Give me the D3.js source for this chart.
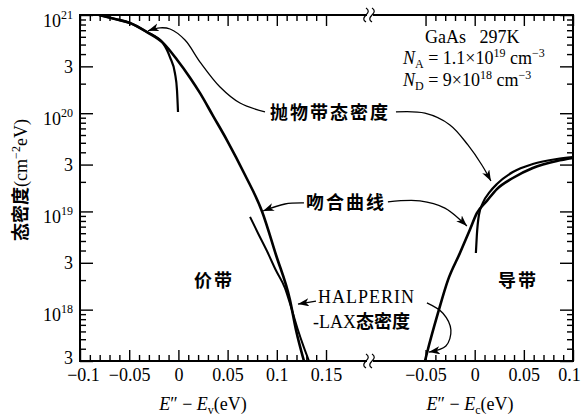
<!DOCTYPE html>
<html>
<head>
<meta charset="utf-8">
<script src="https://cdn.jsdelivr.net/npm/d3@7"></script>
<style>
  body { margin: 0; background: #fff; }
</style>
</head>
<body>
<div id="chart"></div>
<script>
// density of states of GaAs
// [E'' - E (eV), DOS]
const vbFitted = [
  [-0.0807, 1.0e21], [-0.0644, 9.1e20], [-0.0492, 8.3e20], [-0.0319, 6.7e20],
  [-0.0156, 5.2e20], [-0.0014, 3.5e20], [0.0118, 2.3e20], [0.0220, 1.6e20],
  [0.0352, 9.4e19], [0.0494, 5.3e19], [0.0677, 2.35e19], [0.0850, 1.0e19],
  [0.0992, 3.6e18], [0.1134, 1.25e18], [0.1195, 6.2e17], [0.1276, 3.0e17]
];
const vbParabolic = [
  [-0.0807, 1.0e21], [-0.0644, 9.1e20], [-0.0492, 8.3e20], [-0.0319, 6.7e20],
  [-0.0156, 5.15e20], [-0.0116, 4.4e20], [-0.0085, 3.7e20], [-0.0035, 2.55e20],
  [-0.0014, 1.7e20], [-0.0004, 1.03e20]
];
const vbHalperinLax = [
  [0.0728, 8.8e18], [0.0809, 6.0e18], [0.0900, 3.95e18], [0.0992, 2.5e18],
  [0.1083, 1.66e18], [0.1154, 9.9e17], [0.1215, 6.2e17], [0.1276, 4.1e17],
  [0.1327, 3.0e17]
];
const cbFitted = [
  [-0.0506, 3.0e17], [-0.0486, 3.6e17], [-0.0374, 9.2e17], [-0.0272, 2.0e18],
  [-0.0150, 3.77e18], [-0.0049, 6.5e18], [0.0022, 9.6e18], [0.0124, 1.28e19],
  [0.0226, 1.69e19], [0.0388, 2.19e19], [0.0591, 2.77e19], [0.0835, 3.26e19],
  [0.0998, 3.5e19]
];
const cbParabolic = [
  [0.0012, 3.77e18], [0.0022, 5.75e18], [0.0043, 9.2e18], [0.0083, 1.22e19],
  [0.0154, 1.58e19], [0.0226, 1.9e19], [0.0388, 2.52e19], [0.0591, 3.04e19],
  [0.0835, 3.42e19], [0.0998, 3.58e19]
];

// annotation arrows, same units, "v" = valence side, "c" = conduction side
const arrows = [
  { side: "v", pts: [[0.0880, 1.03e20], [0.0626, 1.27e20], [0.0423, 1.85e20], [0.0220, 3.32e20], [0.0067, 5.56e20], [-0.0085, 7.2e20], [-0.0187, 7.4e20], [-0.0309, 6.9e20]] },
  { side: "c", pts: [[-0.0801, 1.03e20], [-0.0506, 1.0e20], [-0.0252, 7.6e19], [-0.0069, 4.75e19], [0.0073, 2.97e19], [0.0165, 2.04e19]] },
  { side: "v", pts: [[0.1276, 1.22e19], [0.1083, 1.19e19], [0.0860, 1.01e19]] },
  { side: "c", pts: [[-0.0883, 1.25e19], [-0.0557, 1.28e19], [-0.0303, 1.08e19], [-0.0079, 7.1e18]] },
  { side: "v", pts: [[0.1398, 1.22e18], [0.1215, 1.14e18]] },
  { side: "c", pts: [[-0.0486, 1.17e18], [-0.0323, 9.2e17], [-0.0242, 6.2e17], [-0.0293, 4.26e17], [-0.0466, 3.7e17]] }
];

const xTicksValence = [-0.1, -0.05, 0, 0.05, 0.1, 0.15];
const xTicksConduction = [-0.05, 0, 0.05, 0.1];
const yTicksMajor = [3e17, 1e18, 3e18, 1e19, 3e19, 1e20, 3e20, 1e21];

const serif = "'Liberation Serif', 'Times New Roman', serif";
const cjk = "'Noto Sans CJK SC', sans-serif";

const width = 581, height = 416;
const plotLeft = 80, plotRight = 573, plotTop = 15, plotBottom = 361, brk = 370;

const svg = d3.select("#chart").append("svg")
  .attr("width", width)
  .attr("height", height)
  .attr("viewBox", [0, 0, width, height]);

const y = d3.scaleLog().domain([3e17, 1e21]).range([plotBottom, plotTop]);
const xV = d3.scaleLinear().domain([-0.1, 0.1947]).range([plotLeft, brk]);
const xC = d3.scaleLinear().domain([-0.1065, 0.1]).range([brk, plotRight]);

// minor tick positions
const near = (a, b) => Math.abs(a - b) < 1e-9;
const minorV = d3.range(-10, 16).map(i => i / 100).filter(v => !xTicksValence.some(m => near(m, v)));
const minorC = d3.range(-5, 11).map(i => i / 100).filter(v => !xTicksConduction.some(m => near(m, v)));
const yMinor = [];
[17, 18, 19, 20].forEach(e => [2, 4, 5, 6, 7, 8, 9].forEach(m => {
  const v = m * Math.pow(10, e);
  if (v > 3e17 && v < 1e21) yMinor.push(v);
}));

const fmt = d => d === 0 ? "0" : d3.format("")(d);

function styleAxis(g) {
  g.select(".domain").remove();
  g.selectAll(".tick line").attr("stroke", "#000").attr("stroke-width", 1.4);
  g.attr("font-family", serif).attr("font-size", 18);
  g.selectAll(".tick text").attr("fill", "#000");
}

// x axes, both segments
[[xV, xTicksValence, minorV], [xC, xTicksConduction, minorC]].forEach(([sc, major, minor]) => {
  svg.append("g").attr("transform", `translate(0,${plotBottom})`)
    .call(d3.axisBottom(sc).tickValues(minor).tickSize(-6).tickFormat(""))
    .call(styleAxis);
  svg.append("g").attr("transform", `translate(0,${plotBottom})`)
    .call(d3.axisBottom(sc).tickValues(major).tickSizeInner(-11).tickSizeOuter(0).tickPadding(7).tickFormat(fmt))
    .call(styleAxis)
    .call(g => g.selectAll(".tick text").filter(d => sc === xC && near(d, 0.1)).attr("dx", -4))
    .call(g => g.selectAll(".tick text").filter(d => sc === xV && near(d, -0.1)).attr("dx", 3));
  svg.append("g").attr("transform", `translate(0,${plotTop})`)
    .call(d3.axisTop(sc).tickValues(minor).tickSize(-6).tickFormat(""))
    .call(styleAxis);
  svg.append("g").attr("transform", `translate(0,${plotTop})`)
    .call(d3.axisTop(sc).tickValues(major).tickSize(-11).tickFormat(""))
    .call(styleAxis);
});

// y axes
svg.append("g").attr("transform", `translate(${plotLeft},0)`)
  .call(d3.axisLeft(y).tickValues(yMinor).tickSize(-6).tickFormat(""))
  .call(styleAxis);
svg.append("g").attr("transform", `translate(${plotLeft},0)`)
  .call(d3.axisLeft(y).tickValues(yTicksMajor).tickSizeInner(-13).tickSizeOuter(0).tickPadding(7).tickFormat(""))
  .call(styleAxis)
  .call(g => g.selectAll(".tick text").each(function(d) {
    const t = d3.select(this);
    const e = Math.round(Math.log10(d));
    if (Math.abs(d - Math.pow(10, e)) < 1e-6 * d) {
      t.attr("dy", "0.62em").text("10");
      t.append("tspan").attr("dy", -8).attr("font-size", 12).text(e);
    } else {
      t.text("3");
      if (d === 3e17) t.attr("dy", "0.15em");
    }
  }));
svg.append("g").attr("transform", `translate(${plotRight},0)`)
  .call(d3.axisRight(y).tickValues(yMinor).tickSize(-6).tickFormat(""))
  .call(styleAxis);
svg.append("g").attr("transform", `translate(${plotRight},0)`)
  .call(d3.axisRight(y).tickValues(yTicksMajor).tickSize(-13).tickFormat(""))
  .call(styleAxis);

// frame
const frame = svg.append("g").attr("stroke", "#000").attr("stroke-width", 2).attr("fill", "none");
frame.append("line").attr("x1", plotLeft).attr("x2", plotRight).attr("y1", plotTop).attr("y2", plotTop);
frame.append("line").attr("x1", plotLeft).attr("x2", plotRight).attr("y1", plotBottom).attr("y2", plotBottom);
frame.append("line").attr("x1", plotLeft).attr("x2", plotLeft).attr("y1", plotTop - 1).attr("y2", plotBottom + 1);
frame.append("line").attr("x1", plotRight).attr("x2", plotRight).attr("y1", plotTop - 1).attr("y2", plotBottom + 1);

// axis break marks
[plotTop, plotBottom].forEach(yy => {
  svg.append("rect").attr("x", brk - 3).attr("y", yy - 3).attr("width", 6).attr("height", 6).attr("fill", "#fff");
  [brk - 3, brk + 3].forEach(xx => {
    svg.append("path")
      .attr("d", `M${xx - 1},${yy - 7} c3,2 3,4 0,7 c-3,3 -3,5 0,7`)
      .attr("fill", "none").attr("stroke", "#000").attr("stroke-width", 1.2);
  });
});

// curves
svg.append("clipPath").attr("id", "plot")
  .append("rect").attr("x", plotLeft).attr("y", plotTop).attr("width", plotRight - plotLeft).attr("height", plotBottom - plotTop);

const curve = sc => d3.line().x(d => sc(d[0])).y(d => y(d[1])).curve(d3.curveMonotoneX);
const curves = svg.append("g").attr("clip-path", "url(#plot)").attr("fill", "none").attr("stroke", "#000");
curves.append("path").attr("d", curve(xV)(vbParabolic)).attr("stroke-width", 2.2);
curves.append("path").attr("d", curve(xV)(vbHalperinLax)).attr("stroke-width", 2);
curves.append("path").attr("d", curve(xV)(vbFitted)).attr("stroke-width", 2.6);
curves.append("path").attr("d", curve(xC)(cbParabolic)).attr("stroke-width", 2.2);
curves.append("path").attr("d", curve(xC)(cbFitted)).attr("stroke-width", 2.6);

// arrows
svg.append("defs").append("marker")
  .attr("id", "head")
  .attr("markerUnits", "userSpaceOnUse")
  .attr("markerWidth", 12).attr("markerHeight", 9)
  .attr("refX", 11).attr("refY", 4)
  .attr("orient", "auto")
  .append("path").attr("d", "M0,0 L11,4 L0,8 L3,4 z").attr("fill", "#000");

svg.append("g").attr("fill", "none").attr("stroke", "#000").attr("stroke-width", 1.3)
  .selectAll("path")
  .data(arrows)
  .join("path")
  .attr("d", a => d3.line()
    .x(d => (a.side === "v" ? xV : xC)(d[0]))
    .y(d => y(d[1]))
    .curve(d3.curveCatmullRom.alpha(0.5))(a.pts))
  .attr("marker-end", "url(#head)");

// labels
function cjkText(x, yy, s) {
  return svg.append("text").attr("x", x).attr("y", yy)
    .attr("font-family", cjk).attr("font-size", 18).attr("font-weight", "bold")
    .attr("letter-spacing", 2).attr("fill", "#000").text(s);
}
cjkText(270, 119, "抛物带态密度");
cjkText(306, 209, "吻合曲线");
cjkText(194, 287, "价带");
cjkText(498, 287, "导带");

const hl = svg.append("g").attr("font-family", serif).attr("font-size", 18).attr("fill", "#000");
hl.append("text").attr("x", 318).attr("y", 303).attr("letter-spacing", 1).text("HALPERIN");
const lax = hl.append("text").attr("x", 313).attr("y", 328);
lax.append("tspan").text("-LAX");
lax.append("tspan").attr("font-family", cjk).attr("font-weight", "bold").text("态密度");

// sample info
const info = svg.append("g").attr("font-family", serif).attr("font-size", 18).attr("fill", "#000");
info.append("text").attr("x", 425).attr("y", 43).attr("xml:space", "preserve").text("GaAs   297K");
const na = info.append("text").attr("x", 403).attr("y", 64);
na.append("tspan").attr("font-style", "italic").text("N");
na.append("tspan").attr("font-size", 12).attr("dy", 4).text("A");
na.append("tspan").attr("dy", -4).text(" = 1.1×10");
na.append("tspan").attr("font-size", 12).attr("dy", -7).text("19");
na.append("tspan").attr("dy", 7).text(" cm");
na.append("tspan").attr("font-size", 12).attr("dy", -7).text("−3");
const nd = info.append("text").attr("x", 403).attr("y", 86);
nd.append("tspan").attr("font-style", "italic").text("N");
nd.append("tspan").attr("font-size", 12).attr("dy", 4).text("D");
nd.append("tspan").attr("dy", -4).text(" = 9×10");
nd.append("tspan").attr("font-size", 12).attr("dy", -7).text("18");
nd.append("tspan").attr("dy", 7).text(" cm");
nd.append("tspan").attr("font-size", 12).attr("dy", -7).text("−3");

// axis titles
function xTitle(cx, sub) {
  const t = svg.append("text").attr("x", cx).attr("y", 410).attr("text-anchor", "middle")
    .attr("font-family", serif).attr("font-size", 18).attr("fill", "#000");
  t.append("tspan").attr("font-style", "italic").text("E");
  t.append("tspan").text("″ − ");
  t.append("tspan").attr("font-style", "italic").text("E");
  t.append("tspan").attr("font-size", 12).attr("dy", 4).text(sub);
  t.append("tspan").attr("dy", -4).text("(eV)");
}
xTitle(203, "v");
xTitle(470, "c");

const yt = svg.append("text").attr("transform", "translate(27,180) rotate(-90)")
  .attr("text-anchor", "middle").attr("font-family", serif).attr("font-size", 18).attr("fill", "#000");
yt.append("tspan").attr("font-family", cjk).attr("font-weight", "bold").text("态密度");
yt.append("tspan").text("(cm");
yt.append("tspan").attr("font-size", 12).attr("dy", -7).text("−2");
yt.append("tspan").attr("dy", 7).text("eV)");
</script>
</body>
</html>
